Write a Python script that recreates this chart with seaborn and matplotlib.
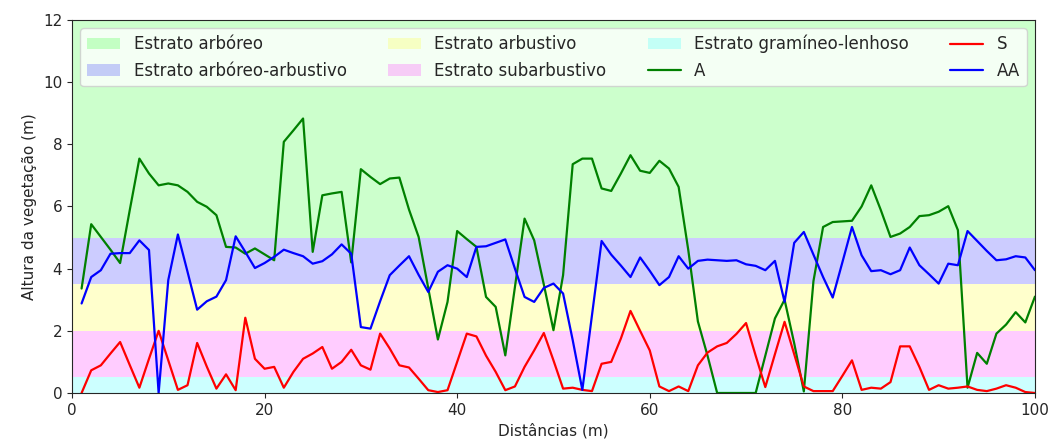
import numpy as np
import pandas as pd
import matplotlib
matplotlib.use("Agg")
import matplotlib.pyplot as plt
import seaborn as sns

# Distâncias ao longo do transecto (m)
distancias = list(range(1, 101))

# Altura da vegetação (m) por estrato
altura_A = [3.36, 5.43, 5.02, 4.61, 4.18, 5.88, 7.54, 7.06, 6.68, 6.74,
            6.68, 6.47, 6.15, 5.99, 5.72, 4.70, 4.68, 4.48, 4.65, 4.46,
            4.27, 8.08, 8.45, 8.83, 4.54, 6.36, 6.42, 6.47, 4.20, 7.20,
            6.95, 6.72, 6.90, 6.93, 5.90, 5.02, 3.37, 1.72, 2.93, 5.21,
            4.95, 4.70, 3.09, 2.77, 1.21, 3.41, 5.61, 4.91, 3.49, 2.02,
            3.79, 7.36, 7.54, 7.54, 6.58, 6.50, 7.06, 7.65, 7.15, 7.08,
            7.47, 7.22, 6.63, 4.60, 2.30, 1.20, 0.00, 0.00, 0.00, 0.00,
            0.00, 1.20, 2.40, 3.00, 1.60, 0.05, 3.60, 5.34, 5.50, 5.52,
            5.54, 6.00, 6.68, 5.88, 5.02, 5.13, 5.34, 5.69, 5.72, 5.83,
            6.01, 5.24, 0.17, 1.29, 0.94, 1.91, 2.20, 2.60, 2.27, 3.10]

altura_S = [0.00, 0.73, 0.89, 1.27, 1.64, 0.90, 0.17, 1.10, 2.00, 1.05,
            0.10, 0.25, 1.61, 0.85, 0.14, 0.60, 0.09, 2.42, 1.10, 0.78,
            0.84, 0.17, 0.68, 1.10, 1.27, 1.48, 0.78, 1.00, 1.39, 0.89,
            0.75, 1.91, 1.43, 0.89, 0.82, 0.46, 0.09, 0.03, 0.09, 1.00,
            1.91, 1.82, 1.20, 0.68, 0.09, 0.21, 0.84, 1.37, 1.93, 1.05,
            0.14, 0.17, 0.10, 0.06, 0.94, 1.00, 1.75, 2.64, 2.00, 1.37,
            0.21, 0.06, 0.21, 0.06, 0.89, 1.30, 1.50, 1.61, 1.90, 2.25,
            1.20, 0.19, 1.25, 2.29, 1.25, 0.21, 0.06, 0.06, 0.06, 0.55,
            1.05, 0.10, 0.17, 0.14, 0.35, 1.50, 1.50, 0.84, 0.10, 0.25,
            0.14, 0.17, 0.21, 0.10, 0.06, 0.14, 0.25, 0.17, 0.03, 0.00]

altura_AA = [2.88, 3.73, 3.95, 4.48, 4.50, 4.50, 4.91, 4.60, 0.00, 3.63,
             5.10, 3.90, 2.68, 2.95, 3.10, 3.63, 5.04, 4.54, 4.02, 4.18,
             4.38, 4.61, 4.50, 4.40, 4.16, 4.24, 4.46, 4.78, 4.48, 2.12,
             2.07, 2.95, 3.79, 4.10, 4.40, 3.80, 3.25, 3.90, 4.11, 4.00,
             3.73, 4.70, 4.72, 4.83, 4.94, 4.00, 3.09, 2.93, 3.38, 3.52,
             3.20, 1.70, 0.10, 2.50, 4.89, 4.45, 4.10, 3.73, 4.36, 3.93,
             3.47, 3.73, 4.40, 4.00, 4.25, 4.29, 4.27, 4.25, 4.27, 4.14,
             4.09, 3.95, 4.25, 2.93, 4.83, 5.18, 4.45, 3.73, 3.07, 4.20,
             5.34, 4.43, 3.92, 3.95, 3.82, 3.95, 4.68, 4.11, 3.82, 3.52,
             4.16, 4.11, 5.21, 4.89, 4.57, 4.27, 4.30, 4.40, 4.36, 3.95]

# Faixas de altura de cada estrato (m)
estratos = ["Estrato arbóreo", "Estrato arbóreo-arbustivo", "Estrato arbustivo",
            "Estrato subarbustivo", "Estrato gramíneo-lenhoso"]
limite_inferior = [5.0, 3.5, 2.0, 0.5, 0.0]
limite_superior = [12.0, 5.0, 3.5, 2.0, 0.5]
cores_estrato = ["lime", "blue", "yellow", "magenta", "cyan"]

series = ["A", "S", "AA"]
cores_series = ["green", "red", "blue"]

sns.set_style("ticks")

fig = plt.figure(figsize=(10.49, 4.43), dpi=100)
ax = fig.add_axes([0.0686, 0.1129, 0.918, 0.842])

faixas = []
for nome, y0, y1, cor in zip(estratos, limite_inferior, limite_superior, cores_estrato):
    faixas.append(ax.axhspan(y0, y1, color=cor, alpha=0.2, lw=0, label=nome))

df = pd.DataFrame({"Distância": distancias, "A": altura_A, "S": altura_S, "AA": altura_AA})
linhas = []
for nome, cor in zip(series, cores_series):
    sns.lineplot(data=df, x="Distância", y=nome, color=cor, lw=1.6, ax=ax, label=nome)
    linhas.append(ax.lines[-1])

ax.set_xlim(0, 100)
ax.set_ylim(0, 12)
ax.set_xticks([0, 20, 40, 60, 80, 100])
ax.set_yticks([0, 2, 4, 6, 8, 10, 12])
ax.tick_params(labelsize=11)
ax.set_xlabel("Distâncias (m)", fontsize=11)
ax.set_ylabel("Altura da vegetação (m)", fontsize=11)
for s in ax.spines.values():
    s.set_visible(True)

handles = faixas + linhas
labels = estratos + series
ax.legend(handles, labels, loc="upper left", ncol=4, mode="expand",
          bbox_to_anchor=(0, 0, 1, 1), fontsize=12, frameon=True)

fig.savefig("out.png", dpi=100)
